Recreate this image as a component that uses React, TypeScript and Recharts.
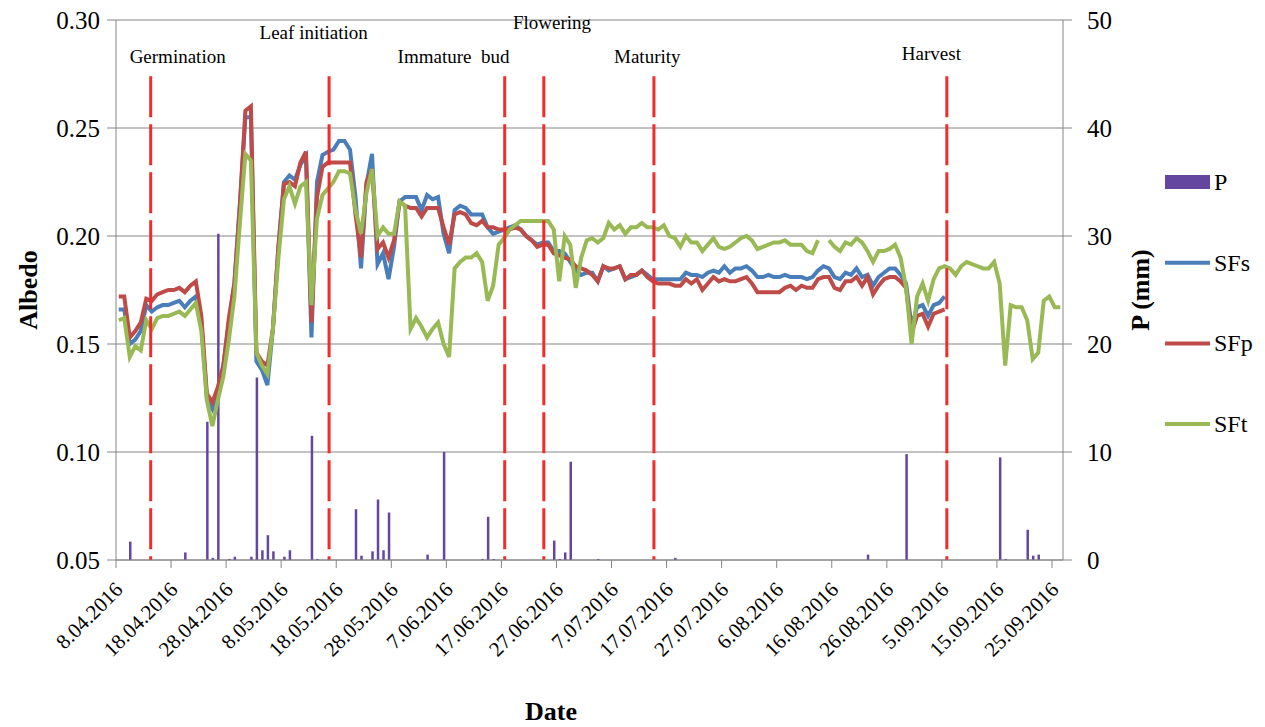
import React from 'react';
import {
  ComposedChart,
  Bar,
  Line,
  XAxis,
  YAxis,
  CartesianGrid,
  ReferenceLine,
  ReferenceDot,
  Legend,
} from 'recharts';

const FONT = "'Liberation Serif', 'Times New Roman', serif";

// x tick labels (every 10 days starting 8.04.2016)
const tickDays = [0, 10, 20, 30, 40, 50, 60, 70, 80, 90, 100, 110, 120, 130, 140, 150, 160, 170];
const tickLabels = [
  '8.04.2016', '18.04.2016', '28.04.2016', '8.05.2016', '18.05.2016', '28.05.2016',
  '7.06.2016', '17.06.2016', '27.06.2016', '7.07.2016', '17.07.2016', '27.07.2016',
  '6.08.2016', '16.08.2016', '26.08.2016', '5.09.2016', '15.09.2016', '25.09.2016',
];

// Albedo series, one value per day (day 0 = 8.04.2016)
const sfs: (number | null)[] = [
  0.166, 0.166, 0.150, 0.152, 0.156, 0.168, 0.165, 0.167, 0.168, 0.168,
  0.169, 0.170, 0.167, 0.170, 0.172, 0.160, 0.125, 0.120, 0.128, 0.140,
  0.160, 0.178, 0.215, 0.255, 0.255, 0.142, 0.138, 0.131, 0.157, 0.195,
  0.225, 0.228, 0.226, 0.233, 0.237, 0.153, 0.225, 0.2375, 0.239, 0.240,
  0.244, 0.244, 0.240, 0.218, 0.185, 0.224, 0.238, 0.187, 0.192, 0.180,
  0.195, 0.216, 0.218, 0.218, 0.218, 0.212, 0.219, 0.217, 0.218, 0.201,
  0.192, 0.212, 0.214, 0.213, 0.210, 0.210, 0.210, 0.204, 0.201, 0.202,
  0.203, 0.204, 0.205, 0.203, 0.200, 0.198, 0.196, 0.197, 0.197, 0.193,
  0.193, 0.192, 0.188, 0.184, 0.182, 0.183, 0.183, 0.179, 0.186, 0.184,
  0.185, 0.186, 0.180, 0.181, 0.182, 0.184, 0.182, 0.180, 0.180, 0.180,
  0.180, 0.180, 0.180, 0.183, 0.182, 0.182, 0.181, 0.183, 0.184, 0.183,
  0.186, 0.183, 0.185, 0.185, 0.186, 0.184, 0.181, 0.181, 0.182, 0.181,
  0.181, 0.182, 0.181, 0.181, 0.181, 0.180, 0.181, 0.184, 0.186, 0.185,
  0.181, 0.180, 0.183, 0.182, 0.185, 0.181, 0.182, 0.177, 0.181, 0.183,
  0.185, 0.185, 0.182, 0.178, 0.158, 0.167, 0.168, 0.163, 0.168, 0.169,
  0.172, null, null, null, null, null, null, null, null, null,
  null, null, null, null, null, null, null, null, null, null,
  null, null,
];

const sfp: (number | null)[] = [
  0.172, 0.172, 0.153, 0.156, 0.160, 0.171, 0.170, 0.173, 0.174, 0.175,
  0.175, 0.176, 0.174, 0.177, 0.179, 0.163, 0.127, 0.123, 0.130, 0.140,
  0.162, 0.178, 0.214, 0.258, 0.260, 0.146, 0.142, 0.140, 0.157, 0.195,
  0.224, 0.225, 0.223, 0.234, 0.239, 0.160, 0.218, 0.232, 0.234, 0.234,
  0.234, 0.234, 0.234, 0.210, 0.190, 0.225, 0.231, 0.194, 0.197, 0.190,
  0.198, 0.216, 0.214, 0.213, 0.213, 0.209, 0.213, 0.213, 0.213, 0.204,
  0.196, 0.210, 0.211, 0.210, 0.206, 0.205, 0.207, 0.204, 0.204, 0.203,
  0.203, 0.203, 0.204, 0.203, 0.200, 0.198, 0.195, 0.196, 0.196, 0.192,
  0.191, 0.190, 0.189, 0.186, 0.185, 0.184, 0.182, 0.179, 0.186, 0.185,
  0.185, 0.186, 0.180, 0.182, 0.182, 0.184, 0.181, 0.179, 0.178, 0.178,
  0.178, 0.177, 0.177, 0.180, 0.178, 0.180, 0.175, 0.178, 0.181, 0.179,
  0.180, 0.179, 0.179, 0.180, 0.181, 0.178, 0.174, 0.174, 0.174, 0.174,
  0.174, 0.176, 0.177, 0.175, 0.177, 0.176, 0.176, 0.180, 0.181, 0.181,
  0.176, 0.175, 0.179, 0.179, 0.181, 0.177, 0.181, 0.173, 0.177, 0.180,
  0.181, 0.181, 0.179, 0.176, 0.155, 0.163, 0.164, 0.158, 0.164, 0.165,
  0.166, null, null, null, null, null, null, null, null, null,
  null, null, null, null, null, null, null, null, null, null,
  null, null,
];

const sft: (number | null)[] = [
  0.161, 0.162, 0.144, 0.149, 0.147, 0.161, 0.157, 0.162, 0.163, 0.163,
  0.164, 0.165, 0.163, 0.166, 0.169, 0.156, 0.124, 0.112, 0.124, 0.135,
  0.152, 0.172, 0.206, 0.238, 0.235, 0.146, 0.140, 0.136, 0.157, 0.190,
  0.217, 0.223, 0.215, 0.223, 0.225, 0.168, 0.208, 0.219, 0.222, 0.225,
  0.230, 0.230, 0.229, 0.212, 0.201, 0.220, 0.231, 0.200, 0.204, 0.201,
  0.201, 0.216, 0.214, 0.157, 0.162, 0.158, 0.153, 0.157, 0.160, 0.150,
  0.144, 0.185, 0.188, 0.190, 0.190, 0.192, 0.188, 0.170, 0.177, 0.196,
  0.199, 0.203, 0.205, 0.207, 0.207, 0.207, 0.207, 0.207, 0.207, 0.203,
  0.179, 0.200, 0.196, 0.176, 0.190, 0.198, 0.199, 0.197, 0.199, 0.206,
  0.203, 0.205, 0.201, 0.204, 0.204, 0.206, 0.204, 0.204, 0.203, 0.205,
  0.200, 0.199, 0.195, 0.200, 0.197, 0.197, 0.193, 0.196, 0.199, 0.195,
  0.194, 0.195, 0.197, 0.199, 0.200, 0.198, 0.194, 0.195, 0.196, 0.197,
  0.197, 0.198, 0.196, 0.196, 0.196, 0.193, 0.192, 0.198, null, 0.198,
  0.195, 0.193, 0.197, 0.196, 0.199, 0.197, 0.193, 0.188, 0.193, 0.193,
  0.194, 0.196, 0.190, 0.176, 0.150, 0.172, 0.178, 0.170, 0.180, 0.185,
  0.186, 0.185, 0.182, 0.186, 0.188, 0.187, 0.186, 0.185, 0.185, 0.188,
  0.178, 0.140, 0.168, 0.167, 0.167, 0.161, 0.143, 0.146, 0.170, 0.172,
  0.167, 0.167,
];

// Precipitation (mm): day index and amount
const rainDays = [2, 12, 16, 17, 18, 20, 21, 24, 25, 26, 27, 28, 30, 31, 35, 36, 43, 44, 46, 47, 48, 49, 56, 59, 66, 67, 68, 79, 80, 81, 82, 87, 101, 136, 143, 160, 161, 165, 166, 167];
const rainMm = [1.7, 0.7, 12.8, 0.2, 30.2, 0.1, 0.3, 0.3, 16.9, 0.9, 2.3, 0.8, 0.3, 0.9, 11.5, 0.1, 4.7, 0.4, 0.8, 5.6, 0.9, 4.4, 0.5, 10.0, 0.1, 4.0, 0.1, 1.8, 0.1, 0.7, 9.1, 0.1, 0.2, 0.5, 9.8, 9.5, 0.1, 2.8, 0.4, 0.5];

// Phenological stages
const stageLineDays = [6.3, 38.7, 70.6, 77.7, 97.7, 150.9];
const stageNames = ['Germination', 'Leaf initiation', 'Immature\u00A0 bud', 'Flowering', 'Maturity', 'Harvest'];
const stageLabelDays = [11.2, 35.9, 61.3, 79.2, 96.5, 148.1];
const stageLabelAlbedo = [0.2833, 0.2942, 0.2833, 0.2990, 0.2833, 0.2847];
const STAGE_TOP = 0.274;

const albedoTicks = [0.05, 0.1, 0.15, 0.2, 0.25, 0.3];
const pTicks = [0, 10, 20, 30, 40, 50];

const COLORS: Record<string, string> = {
  P: '#6446A0',
  SFs: '#4A7EBB',
  SFp: '#BE4B48',
  SFt: '#98B954',
};
const STAGE_COLOR = '#F22B2B';
const AXIS_COLOR = '#868686';

const rainByDay = new Map<number, number>();
rainDays.forEach((d, k) => rainByDay.set(d, rainMm[k]));

const data = sfs.map((v, i) => ({
  day: i + 0.5,
  SFs: v,
  SFp: sfp[i],
  SFt: sft[i],
  P: rainByDay.has(i) ? rainByDay.get(i) : null,
}));

const XTick = (props: any) => {
  const { x, y, payload } = props;
  const idx = tickDays.indexOf(payload.value);
  return (
    <text
      transform={`translate(${x + 3},${y + 16}) rotate(-45)`}
      textAnchor="end"
      dominantBaseline="central"
      fontSize={21}
      fontFamily={FONT}
      fill="#000"
    >
      {idx >= 0 ? tickLabels[idx] : ''}
    </text>
  );
};

const albedoTitle = (props: any) => {
  const vb = props.viewBox;
  const cx = vb.x + 28;
  const cy = vb.y + vb.height / 2;
  return (
    <text x={cx} y={cy} transform={`rotate(-90, ${cx}, ${cy})`} textAnchor="middle" dominantBaseline="central"
      fontSize={26} fontWeight="bold" fontFamily={FONT} fill="#000">Albedo</text>
  );
};

const pTitle = (props: any) => {
  const vb = props.viewBox;
  const cx = vb.x + 77;
  const cy = vb.y + vb.height / 2;
  return (
    <text x={cx} y={cy} transform={`rotate(-90, ${cx}, ${cy})`} textAnchor="middle" dominantBaseline="central"
      fontSize={26} fontWeight="bold" fontFamily={FONT} fill="#000">P (mm)</text>
  );
};

const dateTitle = (props: any) => {
  const vb = props.viewBox;
  return (
    <text x={vb.x + 435} y={711} textAnchor="middle" dominantBaseline="central"
      fontSize={26} fontWeight="bold" fontFamily={FONT} fill="#000">Date</text>
  );
};

const legendOrder = ['P', 'SFs', 'SFp', 'SFt'];

const renderLegend = (props: any) => {
  const payload: any[] = props.payload || [];
  return (
    <svg width={100} height={290} style={{ display: 'block', overflow: 'visible' }}>
      {legendOrder.map((name, k) => {
        const entry = payload.find((p) => p.value === name || p.dataKey === name);
        const color = (entry && entry.color) || COLORS[name];
        const cy = 22 + k * 80.7;
        return (
          <g key={name}>
            {name === 'P' ? (
              <rect x={0} y={cy - 7} width={45} height={14} fill={color} />
            ) : (
              <line x1={0} x2={45} y1={cy} y2={cy} stroke={color} strokeWidth={4} />
            )}
            <text x={49} y={cy} dominantBaseline="central" fontSize={24} fontFamily={FONT} fill="#000">
              {name}
            </text>
          </g>
        );
      })}
    </svg>
  );
};

export default function App() {
  return (
    <div style={{ position: 'absolute', left: 0, top: 0, width: 1265, height: 727, background: '#fff' }}>
      <ComposedChart width={1265} height={727} data={data} margin={{ top: 20, right: 0, bottom: 0, left: 0 }}>
        <CartesianGrid yAxisId="left" vertical={false} stroke={AXIS_COLOR} strokeWidth={1} />
        <XAxis
          dataKey="day"
          type="number"
          domain={[0, 172]}
          ticks={tickDays}
          interval={0}
          height={167}
          tickSize={8}
          axisLine={{ stroke: AXIS_COLOR }}
          tickLine={{ stroke: AXIS_COLOR }}
          tick={XTick}
          label={{ content: dateTitle }}
        />
        <YAxis
          yAxisId="left"
          domain={[0.05, 0.3]}
          ticks={albedoTicks}
          interval={0}
          width={116}
          tickSize={9}
          tickMargin={7}
          axisLine={{ stroke: AXIS_COLOR }}
          tickLine={{ stroke: AXIS_COLOR }}
          tickFormatter={(v: number) => v.toFixed(2)}
          tick={{ fontSize: 25, fill: '#000', fontFamily: FONT }}
          label={{ content: albedoTitle }}
        />
        <YAxis
          yAxisId="right"
          orientation="right"
          domain={[0, 50]}
          ticks={pTicks}
          interval={0}
          width={202}
          tickSize={9}
          tickMargin={15}
          axisLine={{ stroke: AXIS_COLOR }}
          tickLine={{ stroke: AXIS_COLOR }}
          tick={{ fontSize: 25, fill: '#000', fontFamily: FONT, textAnchor: 'start' }}
          label={{ content: pTitle }}
        />
        <Bar yAxisId="right" dataKey="P" name="P" fill={COLORS.P} barSize={2.5} isAnimationActive={false} />
        <Line yAxisId="left" type="linear" dataKey="SFs" name="SFs" stroke={COLORS.SFs} strokeWidth={4}
          dot={false} activeDot={false} isAnimationActive={false} connectNulls={false} />
        <Line yAxisId="left" type="linear" dataKey="SFp" name="SFp" stroke={COLORS.SFp} strokeWidth={4}
          dot={false} activeDot={false} isAnimationActive={false} connectNulls={false} />
        <Line yAxisId="left" type="linear" dataKey="SFt" name="SFt" stroke={COLORS.SFt} strokeWidth={4}
          dot={false} activeDot={false} isAnimationActive={false} connectNulls={false} />
        {stageLineDays.map((d) => (
          <ReferenceLine
            key={`sl-${d}`}
            yAxisId="left"
            segment={[{ x: d, y: STAGE_TOP }, { x: d, y: 0.05 }]}
            stroke={STAGE_COLOR}
            strokeWidth={3}
            strokeDasharray="41 7"
            ifOverflow="visible"
          />
        ))}
        {stageNames.map((name, k) => (
          <ReferenceDot
            key={`lab-${k}`}
            yAxisId="left"
            x={stageLabelDays[k]}
            y={stageLabelAlbedo[k]}
            r={0}
            fill="none"
            stroke="none"
            ifOverflow="visible"
            label={{ value: name, position: 'center', fontSize: 19, fill: '#000', fontFamily: FONT }}
          />
        ))}
        <Legend
          layout="vertical"
          align="center"
          verticalAlign="middle"
          content={renderLegend}
          wrapperStyle={{ position: 'absolute', left: 1165, top: 160, width: 100, height: 290 }}
        />
      </ComposedChart>
    </div>
  );
}
